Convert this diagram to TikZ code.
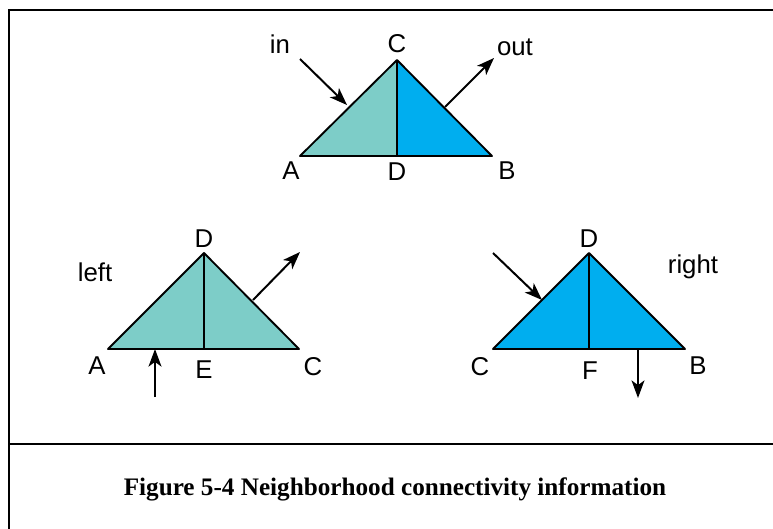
\documentclass[tikz,border=0pt]{standalone}
\usepackage{fontspec}
\setmainfont{Liberation Serif}
\setsansfont{Liberation Sans}
\usetikzlibrary{arrows, arrows.meta, positioning}
\definecolor{tealface}{RGB}{125,205,200}
\definecolor{blueface}{RGB}{0,174,239}
\tikzset{
    vlabel/.style={font=\sffamily\fontsize{22}{22}\selectfont, inner sep=0pt, anchor=base},
    caption/.style={font=\bfseries\fontsize{21.5}{21.5}\selectfont, inner sep=0pt, anchor=base},
    frame/.style={draw=black, line width=1.5pt},
    outline/.style={draw=black, line width=1.6pt, line join=round},
    split/.style={draw=black, line width=1.1pt},
    arrow/.style={line width=1.7pt,->,>={Stealth[length=15pt, width=11pt, inset=4pt]}}
}

\begin{document}
\begin{tikzpicture}[x=0.03cm, y=-0.03cm]
    \useasboundingbox (0,0) rectangle (773,529);
    % frame
    \coordinate (f1) at (9,10);
    \coordinate (f2) at (773,10);
    \coordinate (f3) at (9,529);
    \coordinate (f4) at (9,444);
    \coordinate (f5) at (773,444);
    \draw [frame] (f2) -- (f1) -- (f3);
    \draw [frame] (f4) -- (f5);

    % top triangle
    \coordinate (tA) at (300,156);
    \coordinate (tC) at (397,60);
    \coordinate (tB) at (492,156);
    \coordinate (tD) at (397,156);
    \fill [tealface] (tA) -- (tC) -- (tD) -- cycle;
    \fill [blueface] (tD) -- (tC) -- (tB) -- cycle;
    \draw [split] (tC) -- (tD);
    \draw [outline] (tA) -- (tC) -- (tB) -- cycle;
    \node (tlA) [vlabel] at (291,179) {A};
    \node (tlC) [vlabel] at (397,52) {C};
    \node (tlB) [vlabel] at (507,179) {B};
    \node (tlD) [vlabel] at (397,180) {D};
    \node (tin) [vlabel] at (280,53) {in};
    \node (tout) [vlabel] at (515,55) {out};
    \coordinate (tin0) at (300,59);
    \coordinate (tin1) at (347,105);
    \coordinate (tout0) at (445,107);
    \coordinate (tout1) at (494,58);
    \draw [arrow] (tin0) -- (tin1);
    \draw [arrow] (tout0) -- (tout1);

    % left triangle
    \coordinate (lA) at (108,349);
    \coordinate (lD) at (204,253);
    \coordinate (lC) at (299,349);
    \coordinate (lE) at (204,349);
    \fill [tealface] (lA) -- (lD) -- (lC) -- cycle;
    \draw [split] (lD) -- (lE);
    \draw [outline] (lA) -- (lD) -- (lC) -- cycle;
    \node (llA) [vlabel] at (97,374) {A};
    \node (llD) [vlabel] at (204,247) {D};
    \node (llE) [vlabel] at (204,378) {E};
    \node (llC) [vlabel] at (313,375) {C};
    \node (lleft) [vlabel] at (95,281) {left};
    \coordinate (lin0) at (155,397);
    \coordinate (lin1) at (155,349);
    \coordinate (lout0) at (253,300);
    \coordinate (lout1) at (300,252);
    \draw [arrow] (lin0) -- (lin1);
    \draw [arrow] (lout0) -- (lout1);

    % right triangle
    \coordinate (rC) at (493,349);
    \coordinate (rD) at (589,253);
    \coordinate (rB) at (685,349);
    \coordinate (rF) at (589,349);
    \fill [blueface] (rC) -- (rD) -- (rB) -- cycle;
    \draw [split] (rD) -- (rF);
    \draw [outline] (rC) -- (rD) -- (rB) -- cycle;
    \node (rlC) [vlabel] at (480,375) {C};
    \node (rlD) [vlabel] at (589,247) {D};
    \node (rlF) [vlabel] at (590,379) {F};
    \node (rlB) [vlabel] at (698,374) {B};
    \node (rright) [vlabel] at (693,273) {right};
    \coordinate (rin0) at (493,253);
    \coordinate (rin1) at (542,300);
    \coordinate (rout0) at (638,349);
    \coordinate (rout1) at (638,398);
    \draw [arrow] (rin0) -- (rin1);
    \draw [arrow] (rout0) -- (rout1);

    % caption
    \node (cap) [caption] at (395,495) {Figure 5-4 Neighborhood connectivity information};
\end{tikzpicture}
\end{document}
